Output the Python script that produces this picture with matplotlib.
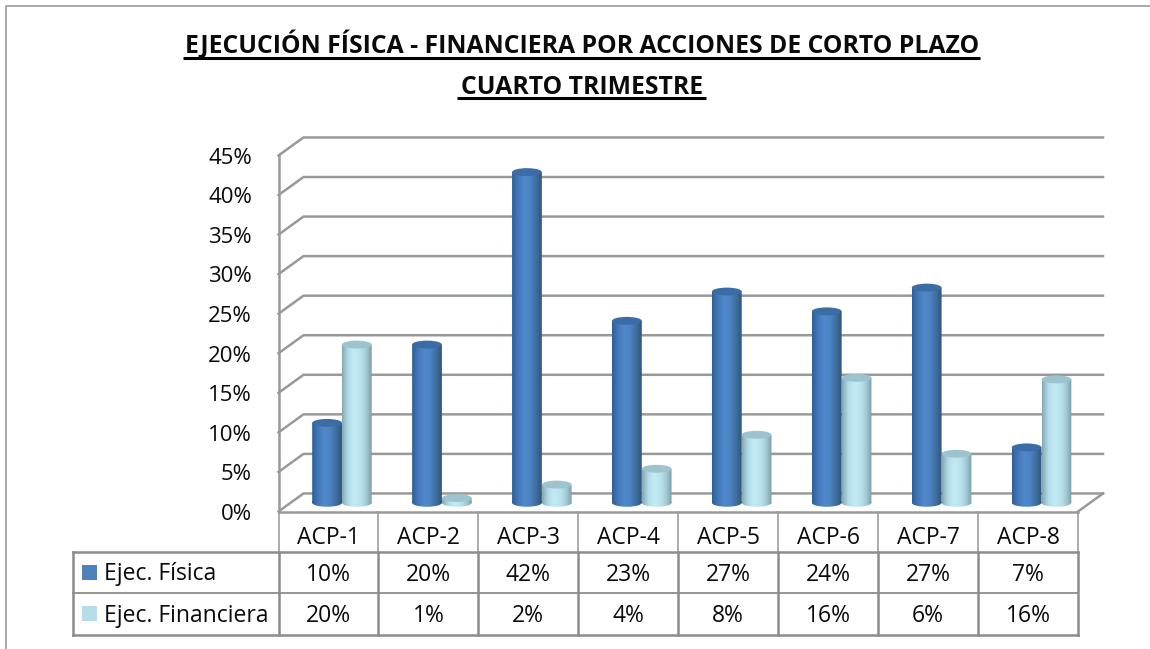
import numpy as np
import matplotlib
matplotlib.use("Agg")
import matplotlib.pyplot as plt
from matplotlib.colors import LinearSegmentedColormap
from matplotlib.patches import Ellipse, Rectangle
from matplotlib.path import Path

categories = ["ACP-1", "ACP-2", "ACP-3", "ACP-4", "ACP-5", "ACP-6", "ACP-7", "ACP-8"]
ejec_fisica = [10.1, 20.0, 41.8, 23.0, 26.7, 24.2, 27.2, 7.0]
ejec_financiera = [20.0, 0.6, 2.3, 4.3, 8.6, 15.8, 6.2, 15.6]
fisica_labels = ["10%", "20%", "42%", "23%", "27%", "24%", "27%", "7%"]
financiera_labels = ["20%", "1%", "2%", "4%", "8%", "16%", "6%", "16%"]
y_ticks = [0, 5, 10, 15, 20, 25, 30, 35, 40, 45]
series_names = ["Ejec. Física", "Ejec. Financiera"]
series_colors = ["#4f81bd", "#b7dee8"]

W, H = 1150, 649
GREY = "#8c8c8c"
INK = "#0a0a0a"
plt.rcParams["font.family"] = ["Open Sans", "DejaVu Sans"]

fig = plt.figure(figsize=(W / 100, H / 100), dpi=100)

# capa en pixeles para marco, titulo y tabla
page = fig.add_axes([0, 0, 1, 1])
page.set_xlim(0, W)
page.set_ylim(H, 0)
page.axis("off")

page.plot([6, 6, W], [H, 5.5, 5.5], color="#a0a0a0", lw=1.3)
fs_title = 17.8
page.text(582, 45, "EJECUCIÓN FÍSICA - FINANCIERA POR ACCIONES DE CORTO PLAZO",
          ha="center", va="center", fontsize=fs_title, fontweight="bold", color=INK)
page.text(582, 87, "CUARTO TRIMESTRE", ha="center", va="center",
          fontsize=fs_title, fontweight="bold", color=INK)
page.plot([183, 980], [57.5, 57.5], color="black", lw=2.2, solid_capstyle="butt")
page.plot([457, 706], [97.5, 97.5], color="black", lw=2.2, solid_capstyle="butt")

# area del grafico: eje x en categorias, eje y en porcentaje
x0, x1, y_base, y_top = 278.5, 1078, 511.5, 155.5
ax = fig.add_axes([x0 / W, 1 - y_base / H, (x1 - x0) / W, (y_base - y_top) / H])
ax.axis("off")
ax.patch.set_alpha(0)

depth_x = 0.25
depth_y = 2.28
n = len(categories)

for v in y_ticks:
    ax.plot([0, depth_x, n + depth_x], [v, v + depth_y, v + depth_y],
            color="#999999", lw=1.8, clip_on=False, zorder=1)
    ax.text(-0.265, v - 0.35, f"{v}%", ha="right", va="center", fontsize=16, color=INK, clip_on=False)
ax.plot([0, 0], [0, 45], color="#999999", lw=1.8, zorder=1, clip_on=False)
ax.plot([n, n + depth_x], [0, depth_y], color="#999999", lw=1.8, zorder=1, clip_on=False)
ax.plot([0, n], [0, 0], color="#999999", lw=1.8, zorder=1, clip_on=False)

dark = LinearSegmentedColormap.from_list("d", ["#2f5f98", "#4378b8", "#5089cb", "#4c83c3", "#41709f", "#2f5680"])
light = LinearSegmentedColormap.from_list("l", ["#86a9b4", "#b0dbe7", "#c2eaf5", "#bce4ef", "#a5ced9", "#7d9fa9"])
gradient = np.linspace(0, 1, 64).reshape(1, -1)

bar_w = 0.298
floor = 1.1
cap_h = 1.0


def cylinder(left, value, cmap, top_color, z):
    img = ax.imshow(gradient, cmap=cmap, extent=[left, left + bar_w, floor - cap_h / 2, floor + value],
                    aspect="auto", zorder=z)
    # cuerpo recortado con la base redondeada
    body = Rectangle((left, floor), bar_w, value)
    bottom = Ellipse((left + bar_w / 2, floor), bar_w, cap_h)
    rect_path = body.get_path().transformed(body.get_patch_transform())
    ell_path = bottom.get_path().transformed(bottom.get_patch_transform())
    clip = Path(np.vstack([rect_path.vertices, ell_path.vertices]),
                np.concatenate([rect_path.codes, ell_path.codes]))
    img.set_clip_path(clip, ax.transData)
    ax.add_patch(Ellipse((left + bar_w / 2, floor + value), bar_w, cap_h, facecolor=top_color,
                         edgecolor="none", zorder=z + 0.1, clip_on=False))


for i in range(n):
    cylinder(i + 0.635 - bar_w, ejec_fisica[i], dark, "#3c6ca5", 3)
    cylinder(i + 0.635, ejec_financiera[i], light, "#9dc4ce", 4)
ax.set_xlim(0, n)
ax.set_ylim(0, 45)

# tabla de datos
col_w = (x1 - x0) / n
rows = [511.5, 552, 593, 634.5]
for i in range(n + 1):
    xc = x0 + i * col_w
    page.plot([xc, xc], [rows[0], rows[1]], color="#a6a6a6", lw=1.3)
    page.plot([xc, xc], [rows[1], rows[3]], color=GREY, lw=1.8)
page.plot([73, 73], [rows[1], rows[3]], color=GREY, lw=1.8)
page.plot([73, x1], [rows[1], rows[1]], color=GREY, lw=1.8)
page.plot([73, x1], [rows[2], rows[2]], color=GREY, lw=1.3)
page.plot([73, x1], [rows[3], rows[3]], color=GREY, lw=1.8)

fs_table = 16.5
for i in range(n):
    xc = x0 + (i + 0.5) * col_w
    page.text(xc, 538.5, categories[i], ha="center", va="center", fontsize=fs_table, color=INK)
    page.text(xc, 575, fisica_labels[i], ha="center", va="center", fontsize=fs_table, color=INK)
    page.text(xc, 616, financiera_labels[i], ha="center", va="center", fontsize=fs_table, color=INK)

for name, colr, yc in zip(series_names, series_colors, [572.5, 613.5]):
    page.add_patch(Rectangle((82, yc - 7.5), 15, 15, facecolor=colr, edgecolor="none"))
    page.text(104, yc + 2, name, ha="left", va="center", fontsize=fs_table, color=INK)

fig.savefig("out.png", dpi=100, facecolor="white")
